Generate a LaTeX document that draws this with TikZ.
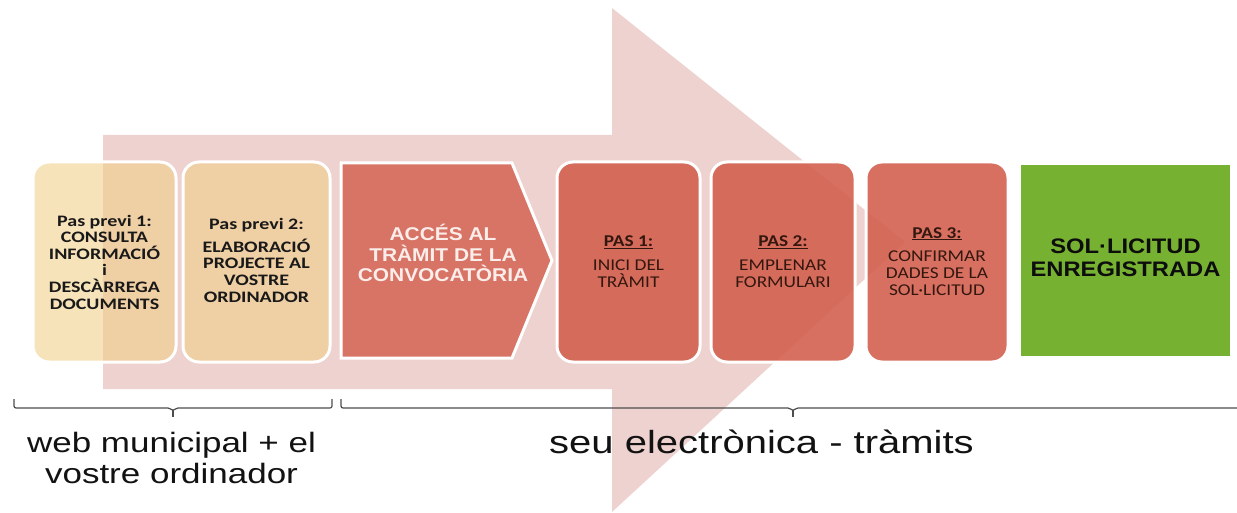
\documentclass[tikz,border=0pt]{standalone}
\usepackage{fontspec}
\setmainfont{Liberation Sans}
\newfontfamily\boxfont[FakeStretch=1.25]{Carlito}
\newfontfamily\redfont[FakeStretch=1.17]{Carlito}
\newfontfamily\accfont[FakeStretch=1.13]{Liberation Sans}
\newfontfamily\grnfont[FakeStretch=1.13]{Liberation Sans}
\newfontfamily\lblfont[FakeStretch=1.25]{Liberation Sans}
\definecolor{arrowpink}{HTML}{EED2CF}
\definecolor{yelfill}{HTML}{F1CD84}
\definecolor{redfill}{HTML}{D3604F}
\definecolor{accred}{HTML}{D87466}
\definecolor{grn}{HTML}{76B131}
\definecolor{redtext}{HTML}{34170F}
\definecolor{acctext}{HTML}{FBEDEA}
\definecolor{brk}{HTML}{4D4D4D}
\begin{document}
\begin{tikzpicture}[x=1pt,y=-1pt,
  stepbox/.style={draw=white, line width=3pt, rounded corners=16pt, inner sep=0pt},
  ybox/.style={stepbox, fill=yelfill, fill opacity=0.56, text opacity=1},
  rbox/.style={stepbox, fill=redfill, fill opacity=0.9, text opacity=1},
  ytext/.style={align=center, text=black!90, font=\boxfont\bfseries\fontsize{16}{16.6}\selectfont},
  rtext/.style={align=center, text=redtext, font=\redfont\fontsize{16.5}{17}\selectfont},
  brace/.style={draw=brk, line width=1.2pt, rounded corners=2pt},
  lbl/.style={anchor=base, text=black!93, inner sep=0pt}
]
\useasboundingbox (0,0) rectangle (1237,513);
% big background arrow
\fill[arrowpink] (103,135) -- (612,135) -- (612,8) -- (905,242) -- (612,512) -- (612,389) -- (103,389) -- cycle;
% boxes
\node[ybox, minimum width=143pt, minimum height=200pt] (b1) at (104.5,262) {};
\node[ybox, minimum width=147pt, minimum height=200pt] (b2) at (256.5,262) {};
\draw[fill=accred, draw=white, line width=3pt] (341,163) -- (512,163) -- (552,260.5) -- (512,358) -- (341,358) -- cycle;
\node[rbox, minimum width=143pt, minimum height=200pt] (p1) at (628.5,262) {};
\node[rbox, minimum width=144pt, minimum height=200pt] (p2) at (783,262) {};
\node[rbox, minimum width=142pt, minimum height=200pt] (p3) at (937,262) {};
\node[fill=grn, minimum width=209pt, minimum height=191pt, inner sep=0pt] (g) at (1125.5,260.5) {};
% texts
\node[ytext] (t1) at (104.5,262) {Pas previ 1:\\CONSULTA\\INFORMACIÓ\\i\\DESCÀRREGA\\DOCUMENTS};
\node[ytext] (t2) at (256.5,260) {Pas previ 2:\\[6.5pt]ELABORACIÓ\\PROJECTE AL\\VOSTRE\\ORDINADOR};
\node[align=center, text=acctext, font=\accfont\bfseries\fontsize{18.5}{20.4}\selectfont] (tacc) at (443,253) {ACCÉS AL\\TRÀMIT DE LA\\CONVOCATÒRIA};
\node[rtext] (tp1) at (628.5,261.5) {\textbf{\underline{PAS 1:}}\\[6.5pt]INICI DEL\\TRÀMIT};
\node[rtext] (tp2) at (783,261.5) {\textbf{\underline{PAS 2:}}\\[6.5pt]EMPLENAR\\FORMULARI};
\node[rtext] (tp3) at (937,261.5) {\textbf{\underline{PAS 3:}}\\[6.5pt]CONFIRMAR\\DADES DE LA\\SOL·LICITUD};
\node[align=center, text=black!95, font=\grnfont\bfseries\fontsize{21}{22.5}\selectfont] (tg) at (1125.5,258) {SOL·LICITUD\\ENREGISTRADA};
% braces
\draw[brace] (14,399) -- (14,408) -- (170,408) -- (173,411) -- (176,408) -- (332,408) -- (332,399);
\draw[brace] (173,410) -- (173,417);
\draw[brace] (341,399) -- (341,408) -- (790,408) -- (793,411) -- (796,408) -- (1245,408) -- (1245,399);
\draw[brace] (793,410) -- (793,417);
% labels
\node[lbl, font=\lblfont\fontsize{28}{31}\selectfont] (l1a) at (171.5,452) {web municipal + el};
\node[lbl, font=\lblfont\fontsize{28}{31}\selectfont] (l1b) at (171.5,483) {vostre ordinador};
\node[lbl, font=\lblfont\fontsize{32}{36}\selectfont] (l2) at (761.5,453) {seu electrònica - tràmits};
\end{tikzpicture}
\end{document}
